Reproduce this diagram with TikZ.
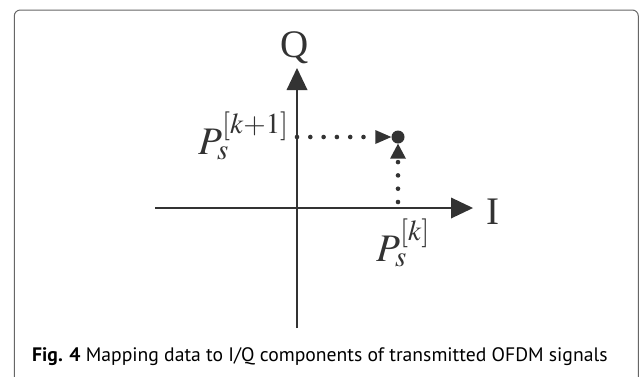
\documentclass[tikz,border=0pt]{standalone}
\usepackage{mathptmx}
\usepackage{fontspec}
\setmainfont{Liberation Serif}
\newfontfamily\capfont{PT Sans}
\usetikzlibrary{arrows.meta}
\definecolor{ink}{HTML}{333333}
\definecolor{framec}{HTML}{666666}
\tikzset{
  axis/.style={draw=ink, line width=2.8pt, -{Triangle[length=22pt,width=21pt,line width=0pt]}},
  dotline/.style={draw=ink, line width=4.6pt, line cap=round, dash pattern=on 0pt off 13.3pt},
  dotarrowh/.style={-{Triangle[length=16pt,width=14pt,line width=0pt]}},
  dotarrowv/.style={-{Triangle[length=15pt,width=16pt,line width=0pt]}},
  biglabel/.style={inner sep=0pt, text=ink, font=\fontsize{39}{46}\selectfont},
  pointdot/.style={circle, fill=ink, minimum size=13pt, inner sep=0pt},
  frame/.style={draw=framec, line width=1pt, rounded corners=6pt},
}
\begin{document}
\begin{tikzpicture}[x=1pt,y=-1pt]
\useasboundingbox (0,0) rectangle (639,376);
\fill[white] (0,0) rectangle (639,376);
\draw[frame] (14.3,420) -- (14.3,10) -- (638.3,10) -- (638.3,420);
% axes
\coordinate (ileft) at (155,208);
\coordinate (iright) at (473,208);
\coordinate (qbot) at (297,328);
\coordinate (qtop) at (297,68);
\draw[axis] (ileft) -- (iright);
\draw[axis] (qbot) -- (qtop);
% point and projections
\node[pointdot] (pt) at (398,137) {};
\coordinate (qk) at (297,137);
\coordinate (ik) at (398,208);
\draw[dotline, dotarrowh] (qk) -- (pt.west);
\draw[dotline, dotarrowv, shorten <=6pt] (ik) -- (pt.south);
% labels
\node[biglabel, anchor=base] (Q) at (295,57) {Q};
\node[biglabel, anchor=base] (I) at (493,224) {I};
\node[biglabel, anchor=base west] (pk1) at (198,154) {$P_s^{[k+1]}$};
\node[biglabel, anchor=base west] (pk) at (376,261) {$P_s^{[k]}$};
% caption
\node[inner sep=0pt, anchor=base west, text=black, font=\capfont\fontsize{19.5}{23}\selectfont] (cap) at (32,361) {\scalebox{1.008}[1]{\textbf{Fig. 4} Mapping data to I/Q components of transmitted OFDM signals}};
\end{tikzpicture}
\end{document}
